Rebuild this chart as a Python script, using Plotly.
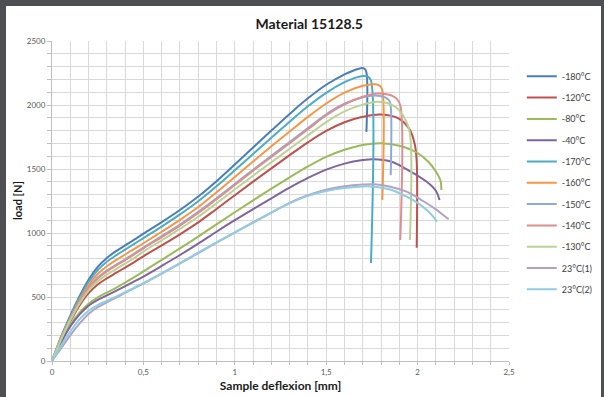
import plotly.graph_objects as go

# ---- data (deflexion in mm, load in N) ----
x_base = [0, 0.05, 0.1, 0.15, 0.2, 0.25, 0.3, 0.35, 0.4, 0.45, 0.5,
          0.6, 0.7, 0.8, 0.9, 1.0, 1.1, 1.2, 1.3, 1.4, 1.5, 1.6]

names = ["-180°C", "-120°C", "-80°C", "-40°C", "-170°C", "-160°C",
         "-150°C", "-140°C", "-130°C", "23°C(1)", "23°C(2)"]

colors = ["#4A7EBB", "#C0504D", "#9BBB59", "#8064A2", "#4BACC6", "#F79646",
          "#8EAAD8", "#DE8E8C", "#BBD392", "#B3A2C7", "#8FCDE0"]

y_m180 = [0, 190, 355, 505, 635, 735, 805, 858, 903, 948, 995,
          1085, 1180, 1285, 1405, 1535, 1668, 1800, 1930, 2052, 2158, 2240]
x_m180_tail = [1.65, 1.69, 1.71, 1.72, 1.72]
y_m180_tail = [2270, 2288, 2283, 2255, 1790]

y_m120 = [0, 165, 308, 432, 530, 598, 645, 688, 730, 773, 818,
          903, 990, 1083, 1188, 1295, 1401, 1505, 1608, 1708, 1797, 1865]
x_m120_tail = [1.7, 1.8, 1.9, 1.958, 1.985, 1.995, 1.995]
y_m120_tail = [1908, 1926, 1892, 1805, 1690, 1560, 885]

y_m80 = [0, 150, 280, 378, 448, 497, 535, 572, 612, 655, 700,
         790, 880, 972, 1068, 1162, 1255, 1346, 1435, 1520, 1595, 1650]
x_m80_tail = [1.7, 1.8, 1.9, 2.0, 2.06, 2.1, 2.125, 2.13]
y_m80_tail = [1688, 1702, 1682, 1625, 1555, 1480, 1410, 1336]

y_m40 = [0, 145, 270, 362, 432, 478, 512, 548, 585, 622, 660,
         743, 828, 917, 1010, 1100, 1186, 1271, 1354, 1430, 1495, 1542]
x_m40_tail = [1.7, 1.76, 1.85, 1.95, 2.05, 2.1, 2.12]
y_m40_tail = [1570, 1577, 1560, 1490, 1400, 1330, 1258]

y_m170 = [0, 185, 345, 490, 615, 710, 775, 825, 870, 915, 960,
          1050, 1145, 1248, 1365, 1490, 1618, 1745, 1870, 1990, 2095, 2178]
x_m170_tail = [1.65, 1.7, 1.73, 1.745, 1.745]
y_m170_tail = [2208, 2226, 2220, 2190, 766]

y_m160 = [0, 180, 335, 475, 595, 680, 740, 788, 832, 876, 920,
          1010, 1103, 1203, 1318, 1438, 1558, 1677, 1793, 1907, 2012, 2097]
x_m160_tail = [1.7, 1.77, 1.795, 1.807, 1.807]
y_m160_tail = [2150, 2162, 2148, 2115, 1258]

y_m150 = [0, 177, 328, 462, 575, 652, 707, 752, 795, 840, 886,
          975, 1066, 1165, 1272, 1383, 1494, 1603, 1711, 1820, 1928, 2010]
x_m150_tail = [1.7, 1.76, 1.82, 1.845, 1.853, 1.853]
y_m150_tail = [2060, 2075, 2062, 2035, 1990, 1453]

y_m140 = [0, 175, 325, 458, 568, 645, 700, 745, 788, 833, 880,
          968, 1058, 1156, 1264, 1375, 1486, 1594, 1701, 1810, 1920, 2005]
x_m140_tail = [1.7, 1.78, 1.85, 1.885, 1.905, 1.905]
y_m140_tail = [2065, 2090, 2078, 2050, 2000, 945]

y_m130 = [0, 170, 318, 447, 550, 622, 675, 718, 760, 805, 855,
          943, 1032, 1127, 1232, 1340, 1447, 1553, 1658, 1763, 1866, 1950]
x_m130_tail = [1.7, 1.78, 1.85, 1.9, 1.935, 1.958, 1.958]
y_m130_tail = [2003, 2026, 2008, 1958, 1880, 1780, 945]

y_23a = [0, 100, 200, 292, 368, 420, 458, 495, 532, 569, 605,
         682, 762, 843, 924, 1003, 1082, 1160, 1236, 1295, 1338, 1365]
x_23a_tail = [1.7, 1.76, 1.85, 1.94, 2.03, 2.1, 2.14, 2.17]
y_23a_tail = [1378, 1380, 1362, 1323, 1250, 1185, 1140, 1107]

y_23b = [0, 120, 229, 325, 393, 437, 470, 503, 537, 572, 608,
         685, 765, 846, 926, 1005, 1083, 1160, 1232, 1290, 1328, 1352]
x_23b_tail = [1.7, 1.76, 1.85, 1.94, 2.0, 2.05, 2.09, 2.105]
y_23b_tail = [1364, 1362, 1340, 1284, 1235, 1180, 1120, 1086]

series = [
    (y_m180, x_m180_tail, y_m180_tail),
    (y_m120, x_m120_tail, y_m120_tail),
    (y_m80, x_m80_tail, y_m80_tail),
    (y_m40, x_m40_tail, y_m40_tail),
    (y_m170, x_m170_tail, y_m170_tail),
    (y_m160, x_m160_tail, y_m160_tail),
    (y_m150, x_m150_tail, y_m150_tail),
    (y_m140, x_m140_tail, y_m140_tail),
    (y_m130, x_m130_tail, y_m130_tail),
    (y_23a, x_23a_tail, y_23a_tail),
    (y_23b, x_23b_tail, y_23b_tail),
]

x_tickvals = [0, 0.5, 1, 1.5, 2, 2.5]
x_ticktext = ["0", "0,5", "1", "1,5", "2", "2,5"]
y_tickvals = [0, 500, 1000, 1500, 2000, 2500]
y_ticktext = ["0", "500", "1000", "1500", "2000", "2500"]

FONT = "Lato"

fig = go.Figure()
for i in range(len(series)):
    yb, xt, yt = series[i]
    fig.add_trace(go.Scatter(
        x=x_base + xt, y=yb + yt, mode="lines", name=names[i],
        legendgroup=names[i],
        line=dict(color=colors[i], width=2, shape="spline", smoothing=1.0),
    ))

grid_col = "#D9D9D9"
fig.update_layout(
    width=604, height=397,
    margin=dict(l=52, r=95, t=41, b=36, autoexpand=False),
    paper_bgcolor="white", plot_bgcolor="white",
    font=dict(family=FONT, color="#404040"),
    title=dict(text="<b>Material 15128.5</b>", x=0.512, xanchor="center",
               y=0.94, yanchor="middle",
               font=dict(family=FONT, size=14, color="#1a1a1a")),
    showlegend=True,
    legend=dict(x=1.028, xanchor="left", y=0.935, yanchor="top",
                font=dict(family=FONT, size=9, color="#404040"),
                tracegroupgap=2.3, traceorder="grouped",
                bgcolor="rgba(0,0,0,0)", itemwidth=30),
    xaxis=dict(range=[0, 2.5], tickvals=x_tickvals, ticktext=x_ticktext,
               automargin=False,
               showgrid=True, gridcolor=grid_col, gridwidth=1,
               minor=dict(dtick=0.1, showgrid=True, gridcolor=grid_col,
                          ticks="outside", ticklen=3, tickcolor="#BFBFBF"),
               ticks="outside", ticklen=3, tickcolor="#BFBFBF",
               showline=True, linecolor="#BFBFBF", linewidth=1,
               zeroline=False,
               tickfont=dict(family=FONT, size=8, color="#595959"),
               title=dict(text="<b>Sample deflexion [mm]</b>", standoff=6,
                          font=dict(family=FONT, size=12, color="#1a1a1a"))),
    yaxis=dict(range=[0, 2500], tickvals=y_tickvals, ticktext=y_ticktext,
               automargin=False,
               showgrid=True, gridcolor=grid_col, gridwidth=1,
               minor=dict(dtick=100, showgrid=True, gridcolor=grid_col,
                          ticks="outside", ticklen=4, tickcolor="#BFBFBF"),
               ticks="outside", ticklen=4, tickcolor="#BFBFBF",
               showline=True, linecolor="#BFBFBF", linewidth=1,
               zeroline=False,
               tickfont=dict(family=FONT, size=8, color="#595959")),
    annotations=[dict(text="<b>load [N]</b>", xref="paper", yref="paper",
                      x=-35/457, y=0.5, xanchor="center", yanchor="middle",
                      textangle=-90, showarrow=False,
                      font=dict(family=FONT, size=11, color="#1a1a1a"))],
)

# dark frame around the chart (screenshot border)
frame = "#4D4F52"
fig.add_shape(type="rect", xref="paper", yref="paper",
              x0=-52/457, x1=-46/457, y0=-36/320, y1=(320+41)/320,
              fillcolor=frame, line=dict(width=0), layer="above")
fig.add_shape(type="rect", xref="paper", yref="paper",
              x0=-52/457, x1=(457+95)/457, y0=(320+35)/320, y1=(320+41)/320,
              fillcolor=frame, line=dict(width=0), layer="above")
fig.add_shape(type="rect", xref="paper", yref="paper",
              x0=(457+92)/457, x1=(457+95)/457, y0=-36/320, y1=(320+41)/320,
              fillcolor=frame, line=dict(width=0), layer="above")

fig.write_html("out.html",
               config={"displayModeBar": False},
               post_script="document.body.style.margin='0';"
                           "document.body.style.padding='0';")
